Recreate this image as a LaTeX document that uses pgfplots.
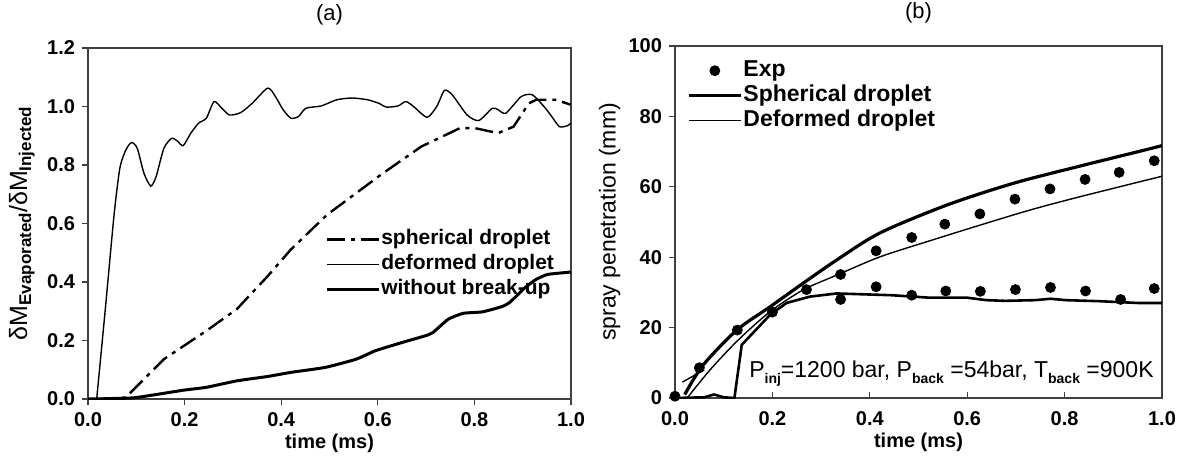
\documentclass[border=0pt]{standalone}
\usepackage{fontspec}
\setmainfont{Liberation Sans}
\usepackage{pgfplots}
\pgfplotsset{compat=1.18}

\newcommand\sub[1]{\raisebox{-3pt}{\fontsize{7}{8}\selectfont\bfseries #1}}
\newcommand\lsub[1]{\raisebox{-2pt}{\fontsize{8.5}{9}\selectfont\bfseries #1}}

\tikzset{paneltitle/.style={anchor=center, yshift=16.5pt, font=\fontsize{11}{13}\selectfont}}

\pgfplotsset{
  panel/.style={
    scale only axis,
    xmin=0, xmax=1,
    xtick={0,0.2,0.4,0.6,0.8,1},
    tick pos=left, tick align=outside,
    major tick length=3pt,
    axis line style={line width=0.6pt, black!75},
    tick style={black!75, line width=0.6pt},
    ticklabel style={font=\fontsize{10}{12}\selectfont\bfseries},
    /pgf/number format/assume math mode=true,
    xticklabel style={/pgf/number format/.cd, fixed, fixed zerofill, precision=1},
    xlabel={time (ms)},
    xlabel style={at={(axis description cs:0.5,0)}, anchor=center, yshift=-22pt,
      font=\fontsize{10}{12}\selectfont\bfseries},
    legend style={draw=none, fill=none, row sep=1pt,
      nodes={inner sep=0.5pt, text height=8pt, text depth=2.5pt}},
    legend cell align=left,
    legend image code/.code={\draw[mark repeat=2,mark phase=2,#1]
      plot coordinates {(0pt,0pt) (13pt,0pt) (26pt,0pt)};},
  },
}

\begin{document}
\begin{tikzpicture}

% ---------- (a) evaporated mass ratio ----------
\begin{axis}[panel, name=pa,
  at={(0pt,0pt)}, anchor=south west,
  width=241.5pt, height=175.5pt,
  ymin=0, ymax=1.2,
  ytick={0,0.2,0.4,0.6,0.8,1.0,1.2},
  yticklabel style={/pgf/number format/.cd, fixed, fixed zerofill, precision=1},
  ylabel={δM\lsub{Evaporated}/δM\lsub{Injected}},
  ylabel style={at={(axis description cs:-0.137,0.5)}, anchor=center,
    font=\fontsize{12.5}{14}\selectfont},
  legend style={at={(axis description cs:0.98,0.50)}, anchor=north east,
    font=\fontsize{10.5}{12}\selectfont\bfseries},
]
% spherical droplet
\addplot[black, line width=1.2pt, dash pattern=on 9pt off 3pt on 2pt off 3pt]
  table {
0.020 0.000
0.078 0.005
0.157 0.136
0.245 0.233
0.308 0.307
0.372 0.420
0.420 0.511
0.495 0.630
0.610 0.771
0.690 0.863
0.770 0.926
0.801 0.926
0.849 0.909
0.881 0.931
0.913 1.011
0.928 1.023
0.968 1.023
1.000 1.006
};
\addlegendentry{spherical droplet}

% deformed droplet
\addplot[black, line width=0.7pt, smooth, tension=0.4]
  table {
0.018 0.000
0.036 0.310
0.054 0.630
0.066 0.790
0.078 0.850
0.090 0.877
0.102 0.857
0.116 0.771
0.130 0.728
0.141 0.760
0.157 0.857
0.173 0.891
0.185 0.882
0.197 0.866
0.213 0.909
0.229 0.943
0.245 0.960
0.261 1.017
0.277 0.994
0.293 0.971
0.316 0.979
0.340 1.011
0.372 1.063
0.388 1.034
0.404 0.989
0.420 0.960
0.436 0.966
0.451 0.994
0.483 1.002
0.515 1.023
0.547 1.029
0.579 1.023
0.602 1.011
0.618 0.998
0.642 1.002
0.658 1.017
0.674 1.000
0.702 0.963
0.722 1.000
0.738 1.055
0.754 1.040
0.785 0.971
0.809 0.952
0.837 0.994
0.849 0.989
0.865 0.977
0.897 1.034
0.920 1.040
0.944 1.000
0.960 0.966
0.976 0.931
0.992 0.934
1.000 0.943
};
\addlegendentry{deformed droplet}

% without break-up
\addplot[black, line width=1.5pt, smooth, tension=0.3]
  table {
0.000 0.000
0.094 0.004
0.197 0.030
0.245 0.040
0.308 0.062
0.372 0.077
0.420 0.091
0.491 0.108
0.555 0.136
0.595 0.165
0.650 0.193
0.698 0.216
0.714 0.227
0.746 0.273
0.777 0.293
0.817 0.298
0.857 0.316
0.873 0.330
0.905 0.381
0.928 0.409
0.952 0.426
1.000 0.434
};
\addlegendentry{without break-up}
\end{axis}

% ---------- (b) spray penetration ----------
\begin{axis}[panel, name=pb,
  at={(293.5pt,0.5pt)}, anchor=south west,
  width=243.5pt, height=176pt,
  ymin=0, ymax=100,
  ytick={0,20,40,60,80,100},
  xtick style={yshift=3pt},
  ylabel={spray penetration (mm)},
  ylabel style={at={(axis description cs:-0.134,0.5)}, anchor=center,
    font=\fontsize{11.5}{13}\selectfont},
  legend style={at={(axis description cs:0.012,0.975)}, anchor=north west,
    font=\fontsize{11.5}{13}\selectfont\bfseries},
]
% experiment
\addplot[only marks, mark=*, mark size=2.5pt, black]
  table {
0.000 0.5
0.050 8.6
0.128 19.3
0.200 24.4
0.270 30.8
0.340 35.1
0.413 41.8
0.486 45.6
0.554 49.4
0.626 52.3
0.698 56.5
0.770 59.4
0.842 62.1
0.912 64.1
0.984 67.4
0.340 28.0
0.413 31.6
0.486 29.2
0.556 30.4
0.627 30.3
0.699 30.8
0.771 31.4
0.843 30.4
0.915 28.0
0.984 31.1
};
\addlegendentry{Exp}

% spherical droplet, liquid penetration
\addplot[black, line width=1.6pt, smooth]
  table {
0.020 1.0
0.058 9.4
0.127 19.3
0.195 25.9
0.263 32.6
0.332 39.2
0.421 46.9
0.558 54.8
0.695 61.0
0.832 65.9
0.969 70.6
1.000 71.7
};
\addlegendentry{Spherical droplet}

% deformed droplet, liquid penetration
\addplot[black, line width=0.7pt, smooth]
  table {
0.025 0.0
0.072 8.0
0.130 16.5
0.195 24.5
0.263 30.7
0.332 34.9
0.421 40.1
0.524 44.7
0.626 49.1
0.729 53.4
0.832 57.2
1.000 63.0
};
\addlegendentry{Deformed droplet}

% short start segment
\addplot[black, line width=0.7pt, forget plot]
  table {
0.015 4.5
0.060 8.0
};

% lower curve
\addplot[black, line width=1.3pt, forget plot]
  table {
0.000 0.0
0.060 0.2
0.080 1.0
0.100 0.2
0.122 0.0
0.137 15.1
0.195 23.6
0.229 27.0
0.277 28.8
0.332 29.7
0.445 29.2
0.522 28.5
0.600 28.5
0.639 27.8
0.678 27.6
0.740 27.8
0.771 28.2
0.802 27.8
0.872 27.5
0.950 27.0
1.000 27.0
};

\node[anchor=west, font=\fontsize{11.5}{14}\selectfont]
  at (axis description cs:0.138,0.068)
  {P\sub{inj}=1200 bar, P\sub{back} =54bar, T\sub{back} =900K};
\end{axis}

\node[paneltitle] at (pa.north) {(a)};
\node[paneltitle] at (pb.north) {(b)};

\pgfresetboundingbox
\path[use as bounding box] (-44pt,-31pt) rectangle (546.5pt,199.5pt);
\end{tikzpicture}
\end{document}
